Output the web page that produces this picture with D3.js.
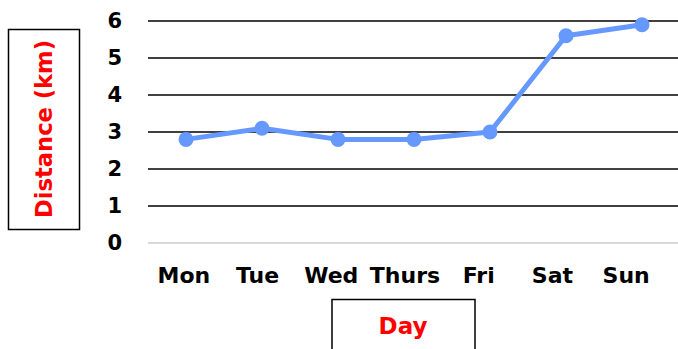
<!DOCTYPE html>
<html>
<head>
<meta charset="utf-8">
<script src="https://cdn.jsdelivr.net/npm/d3@7/dist/d3.min.js"></script>
<style>
  html, body { margin: 0; padding: 0; background: #fff; }
  svg { display: block; }
  text { font-family: "Century Gothic", "DejaVu Sans", sans-serif; font-weight: bold; }
</style>
</head>
<body>
<svg id="chart" width="678" height="349"></svg>
<script>
// Daily distance walked over one week
const days = ["Mon", "Tue", "Wed", "Thurs", "Fri", "Sat", "Sun"];
const distances = [2.8, 3.1, 2.8, 2.8, 3.0, 5.6, 5.9];
const yTicks = [0, 1, 2, 3, 4, 5, 6];
const xTitle = "Day";
const yTitle = "Distance (km)";

const svg = d3.select("#chart");

// Plot area
const x = d3.scaleBand().domain(days).range([148, 680]).padding(0);
const xLabel = d3.scaleBand().domain(days).range([147, 663]).padding(0);
const y = d3.scaleLinear().domain([0, 6]).range([243, 21]);

// Horizontal gridlines
svg.append("g")
  .selectAll("line")
  .data(yTicks)
  .join("line")
  .attr("x1", 148)
  .attr("x2", 678)
  .attr("y1", d => y(d))
  .attr("y2", d => y(d))
  .attr("stroke", d => d === 0 ? "#d9d9d9" : "#000")
  .attr("stroke-width", d => d === 0 ? 2 : 1.6);

// Y axis tick labels
const yAxis = d3.axisLeft(y).tickValues(yTicks).tickFormat(d3.format("d")).tickSize(0).tickPadding(0);
const gy = svg.append("g").attr("transform", "translate(122,0)").call(yAxis);
gy.select(".domain").remove();
gy.selectAll("text")
  .attr("font-size", 21)
  .attr("fill", "#000")
  .style("font-family", null);

// X axis tick labels
const xAxis = d3.axisBottom(xLabel).tickSize(0).tickPadding(0);
const gx = svg.append("g").attr("transform", "translate(0,266)").call(xAxis);
gx.select(".domain").remove();
gx.selectAll("text")
  .attr("font-size", 22)
  .attr("fill", "#000")
  .attr("dy", "0.78em")
  .style("font-family", null);

// Line series
const cx = d => x(d) + x.bandwidth() / 2;
const line = d3.line()
  .x((d, i) => cx(days[i]))
  .y(d => y(d));

svg.append("path")
  .datum(distances)
  .attr("d", line)
  .attr("fill", "none")
  .attr("stroke", "#6699ff")
  .attr("stroke-width", 5)
  .attr("stroke-linejoin", "round");

svg.append("g")
  .selectAll("circle")
  .data(distances)
  .join("circle")
  .attr("cx", (d, i) => cx(days[i]))
  .attr("cy", d => y(d))
  .attr("r", 7.5)
  .attr("fill", "#6699ff");

// Y axis title in a box
svg.append("rect")
  .attr("x", 8.5).attr("y", 29.5)
  .attr("width", 71).attr("height", 200)
  .attr("fill", "#fff").attr("stroke", "#000").attr("stroke-width", 1.5);
svg.append("text")
  .attr("transform", "translate(52,129) rotate(-90)")
  .attr("text-anchor", "middle")
  .attr("font-size", 23)
  .attr("fill", "#ff0000")
  .attr("textLength", 178)
  .attr("lengthAdjust", "spacingAndGlyphs")
  .text(yTitle);

// X axis title in a box
svg.append("rect")
  .attr("x", 332).attr("y", 299.5)
  .attr("width", 143).attr("height", 60)
  .attr("fill", "#fff").attr("stroke", "#000").attr("stroke-width", 1.5);
svg.append("text")
  .attr("x", 403).attr("y", 334)
  .attr("text-anchor", "middle")
  .attr("font-size", 23)
  .attr("fill", "#ff0000")
  .text(xTitle);
</script>
</body>
</html>
